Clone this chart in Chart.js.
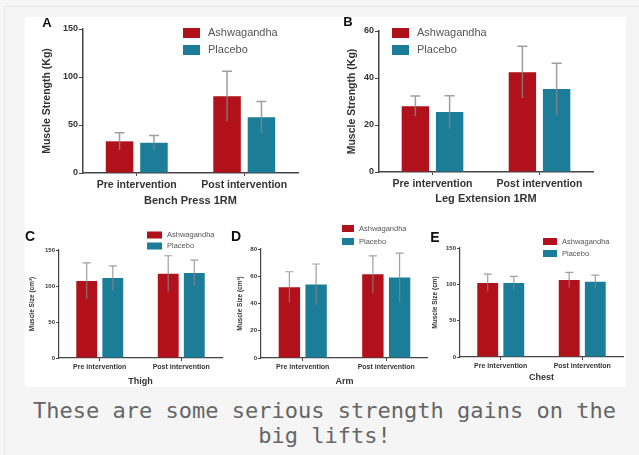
<!DOCTYPE html>
<html>
<head>
<meta charset="utf-8">
<script src="https://cdn.jsdelivr.net/npm/chart.js"></script>
<style>
  html, body { margin: 0; padding: 0; }
  body { width: 639px; height: 455px; background: #f6f6f6; position: relative; overflow: hidden; }
  #card { position: absolute; left: 4px; top: 6px; width: 640px; height: 460px; border-left: 1px solid #e6e6e6; border-top: 1px solid #e6e6e6; background: #f5f5f5; }
  #fig { position: absolute; left: 25px; top: 17px; width: 601px; height: 370px; background: #fff; }
  canvas { position: absolute; }
  #caption { position: absolute; left: 10px; top: 398px; width: 629px; text-align: center;
    font-family: "DejaVu Sans Mono", monospace; font-size: 22px; line-height: 25px; color: #666; }
</style>
</head>
<body>
<div id="card"></div>
<div id="fig"></div>
<canvas id="chartA" width="300" height="198" style="left:25px;top:17px"></canvas>
<canvas id="chartB" width="301" height="198" style="left:325px;top:17px"></canvas>
<canvas id="chartC" width="200" height="170" style="left:25px;top:222px"></canvas>
<canvas id="chartD" width="203" height="170" style="left:225px;top:222px"></canvas>
<canvas id="chartE" width="198" height="170" style="left:428px;top:222px"></canvas>
<div id="caption">These are some serious strength gains on the big lifts!</div>
<script>
// du lieu doc tu hinh
const groups = ['Pre intervention', 'Post intervention'];
const seriesNames = ['Ashwagandha', 'Placebo'];

const benchAsh = [33, 80];
const benchAshSd = [9, 26];
const benchPla = [31.5, 58];
const benchPlaSd = [7.5, 16.5];
const benchTicks = [0, 50, 100, 150];

const legAsh = [28, 42.5];
const legAshSd = [4.3, 11];
const legPla = [25.5, 35.3];
const legPlaSd = [7, 11];
const legTicks = [0, 20, 40, 60];

const thighAsh = [107, 117];
const thighAshSd = [25, 25];
const thighPla = [111, 118];
const thighPlaSd = [17, 18];
const thighTicks = [0, 50, 100, 150];

const armAsh = [52, 61.4];
const armAshSd = [11.3, 13.5];
const armPla = [54, 59];
const armPlaSd = [15, 18];
const armTicks = [0, 20, 40, 60, 80];

const chestAsh = [102, 106];
const chestAshSd = [12, 10.5];
const chestPla = [102, 103.6];
const chestPlaSd = [9, 9];
const chestTicks = [0, 50, 100, 150];

const ashColor = '#b0111a';
const plaColor = '#1b7d97';
const axisColor = '#444';
const fontName = "'Liberation Sans', Arial, sans-serif";

// ve error bar (SD) theo scale cua chart
const errorBars = {
    id: 'errorBars',
    afterDatasetsDraw(chart, args, opts) {
        const ctx = chart.ctx;
        const yScale = chart.scales.y;
        ctx.save();
        ctx.strokeStyle = 'rgba(135,135,135,0.8)';
        ctx.lineWidth = opts.lineWidth || 1.5;
        chart.data.datasets.forEach((ds, di) => {
            const meta = chart.getDatasetMeta(di);
            meta.data.forEach((bar, i) => {
                const top = yScale.getPixelForValue(ds.data[i] + ds.sd[i]);
                const low = yScale.getPixelForValue(ds.data[i] - ds.sd[i]);
                ctx.beginPath();
                ctx.moveTo(bar.x, low);
                ctx.lineTo(bar.x, top);
                ctx.moveTo(bar.x - opts.cap, top);
                ctx.lineTo(bar.x + opts.cap, top);
                ctx.stroke();
            });
        });
        ctx.restore();
    }
};

// chu thich va chu cai cua panel
const panelText = {
    id: 'panelText',
    afterDraw(chart, args, opts) {
        const ctx = chart.ctx;
        ctx.save();
        ctx.textBaseline = 'middle';
        ctx.textAlign = 'left';
        chart.data.datasets.forEach((ds, i) => {
            const y = opts.legY + i * opts.legGap;
            ctx.fillStyle = ds.backgroundColor;
            ctx.fillRect(opts.legX, y - opts.boxH / 2, opts.boxW, opts.boxH);
            ctx.fillStyle = '#555';
            ctx.font = opts.legSize + 'px ' + fontName;
            ctx.fillText(ds.label, opts.legX + opts.boxW + opts.textGap, y);
        });
        ctx.fillStyle = '#111';
        ctx.font = 'bold ' + opts.letterSize + 'px ' + fontName;
        ctx.textAlign = 'center';
        ctx.fillText(opts.letter, opts.letterX, opts.letterY);
        ctx.restore();
    }
};

function barPanel(id, p) {
    const data = {
        labels: groups,
        datasets: [{
            label: seriesNames[0],
            data: p.ash,
            sd: p.ashSd,
            backgroundColor: ashColor,
            barPercentage: 0.8,
            categoryPercentage: 0.64
        }, {
            label: seriesNames[1],
            data: p.pla,
            sd: p.plaSd,
            backgroundColor: plaColor,
            barPercentage: 0.8,
            categoryPercentage: 0.64
        }]
    };

    const config = {
        type: 'bar',
        data: data,
        options: {
            responsive: false,
            animation: false,
            layout: { padding: { left: 0, top: p.padTop, right: p.padRight, bottom: 0 } },
            plugins: {
                legend: { display: false },
                tooltip: { enabled: false },
                errorBars: { cap: p.cap, lineWidth: p.errW },
                panelText: p.text
            },
            scales: {
                x: {
                    afterFit: (s) => { s.height = p.xH; },
                    grid: { offset: false, drawOnChartArea: false, drawTicks: true, tickLength: 3, color: axisColor, lineWidth: 1 },
                    border: { display: true, color: axisColor, width: p.axW },
                    ticks: { color: '#333', padding: p.catPad, maxRotation: 0, autoSkip: false,
                        font: { family: fontName, size: p.catSize, weight: 'bold' } },
                    title: { display: true, text: p.xTitle, color: '#333',
                        font: { family: fontName, size: p.xTitleSize, weight: 'bold', lineHeight: 1.2 },
                        padding: { top: 0, bottom: p.xTitlePad } }
                },
                y: {
                    min: 0,
                    max: p.ticks[p.ticks.length - 1],
                    afterFit: (s) => { s.width = p.yW; },
                    afterBuildTicks: (s) => { s.ticks = p.ticks.map(v => ({ value: v })); },
                    grid: { drawOnChartArea: false, drawTicks: true, tickLength: p.tickLen, color: axisColor, lineWidth: 1 },
                    border: { display: true, color: axisColor, width: p.axW },
                    ticks: { color: '#333', padding: 1,
                        font: { family: fontName, size: p.tickSize, weight: 'bold' } },
                    title: { display: true, text: p.yTitle, color: '#333',
                        font: { family: fontName, size: p.yTitleSize, weight: 'bold', lineHeight: 1.2 },
                        padding: { top: p.yTitlePad, bottom: 0 } }
                }
            }
        },
        plugins: [errorBars, panelText]
    };

    let ctx = document.getElementById(id).getContext('2d');
    new Chart(ctx, config);
}

barPanel('chartA', {
    ash: benchAsh, ashSd: benchAshSd, pla: benchPla, plaSd: benchPlaSd, ticks: benchTicks,
    xTitle: 'Bench Press 1RM', yTitle: 'Muscle Strength (Kg)',
    padTop: 12, padRight: 27, yW: 58, xH: 42, axW: 1.5, tickLen: 4, cap: 5, errW: 1.5,
    catSize: 10.5, catPad: 3, xTitleSize: 11, xTitlePad: 7, tickSize: 9, yTitleSize: 10.5, yTitlePad: 16,
    text: { letter: 'A', letterX: 22, letterY: 6, letterSize: 13, legX: 158, legY: 16, legGap: 17,
        boxW: 17, boxH: 10, textGap: 8, legSize: 11 }
});

barPanel('chartB', {
    ash: legAsh, ashSd: legAshSd, pla: legPla, plaSd: legPlaSd, ticks: legTicks,
    xTitle: 'Leg Extension 1RM', yTitle: 'Muscle Strength (Kg)',
    padTop: 14, padRight: 33, yW: 54, xH: 43, axW: 1.5, tickLen: 4, cap: 5, errW: 1.5,
    catSize: 10.5, catPad: 3, xTitleSize: 11, xTitlePad: 9, tickSize: 9, yTitleSize: 10.5, yTitlePad: 21,
    text: { letter: 'B', letterX: 23, letterY: 5, letterSize: 13, legX: 67, legY: 16, legGap: 17,
        boxW: 17, boxH: 10, textGap: 8, legSize: 11 }
});

barPanel('chartC', {
    ash: thighAsh, ashSd: thighAshSd, pla: thighPla, plaSd: thighPlaSd, ticks: thighTicks,
    xTitle: 'Thigh', yTitle: 'Muscle Size (cm\u00b3)',
    padTop: 28, padRight: 3, yW: 34, xH: 34, axW: 1.2, tickLen: 3, cap: 4, errW: 1.2,
    catSize: 7, catPad: 2, xTitleSize: 9, xTitlePad: 5, tickSize: 6, yTitleSize: 6.5, yTitlePad: 3,
    text: { letter: 'C', letterX: 5, letterY: 15, letterSize: 14, legX: 122, legY: 13, legGap: 11,
        boxW: 15, boxH: 7, textGap: 5, legSize: 7.5 }
});

barPanel('chartD', {
    ash: armAsh, ashSd: armAshSd, pla: armPla, plaSd: armPlaSd, ticks: armTicks,
    xTitle: 'Arm', yTitle: 'Muscle Size (cm\u00b3)',
    padTop: 27, padRight: 0, yW: 36, xH: 34, axW: 1.2, tickLen: 3, cap: 4, errW: 1.2,
    catSize: 7, catPad: 2, xTitleSize: 9, xTitlePad: 5, tickSize: 6, yTitleSize: 6.5, yTitlePad: 11,
    text: { letter: 'D', letterX: 11, letterY: 15, letterSize: 14, legX: 117, legY: 6.5, legGap: 13,
        boxW: 12, boxH: 7, textGap: 5, legSize: 7.5 }
});

barPanel('chartE', {
    ash: chestAsh, ashSd: chestAshSd, pla: chestPla, plaSd: chestPlaSd, ticks: chestTicks,
    xTitle: 'Chest', yTitle: 'Muscle Size (cm)',
    padTop: 26, padRight: 3, yW: 32, xH: 35, axW: 1.2, tickLen: 3, cap: 4, errW: 1.2,
    catSize: 7, catPad: 2, xTitleSize: 9, xTitlePad: 9, tickSize: 6, yTitleSize: 6.5, yTitlePad: 3,
    text: { letter: 'E', letterX: 7, letterY: 16, letterSize: 14, legX: 115, legY: 19.5, legGap: 12,
        boxW: 14, boxH: 7, textGap: 5, legSize: 7.5 }
});
</script>
</body>
</html>
